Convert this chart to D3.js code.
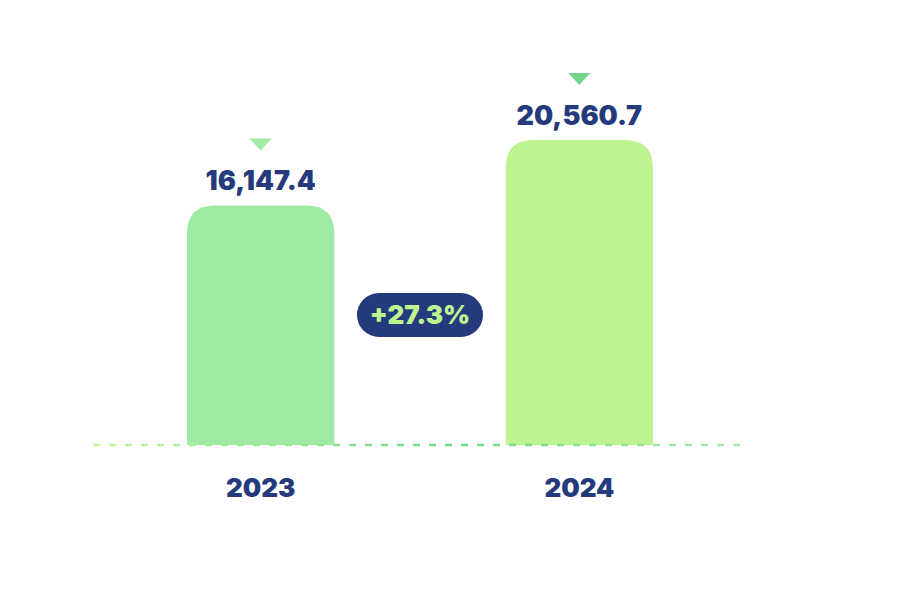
<!DOCTYPE html>
<html>
<head>
<meta charset="utf-8">
<script src="https://cdn.jsdelivr.net/npm/d3@7"></script>
<style>
  html, body { margin: 0; padding: 0; background: #ffffff; }
  svg { display: block; }
  text { font-family: Inter, "Noto Sans", sans-serif; font-weight: 900; }
</style>
</head>
<body>
<svg id="chart"></svg>
<script>
// Dimension constants
const WIDTH = 902;
const HEIGHT = 602;

// data
const years = ['2023', '2024'];
const values = [16147.4, 20560.7];
const barColors = ['#9feaa2', '#bdf490'];
const markerColors = ['#a2eba5', '#72d68a'];

const NAVY = '#253a7d';

const svg = d3.select('#chart')
    .attr('width', WIDTH)
    .attr('height', HEIGHT);

// scales
const x = d3.scaleBand()
    .domain(years)
    .range([93, 747])
    .paddingInner(0.538)
    .paddingOuter(0.295);

const y = d3.scaleLinear()
    .domain([0, d3.max(values)])
    .range([445, 140]);

const baseY = y(0);
const radius = 28;

// gradient for baseline
const defs = svg.append('defs');
const grad = defs.append('linearGradient')
    .attr('id', 'baseGrad')
    .attr('gradientUnits', 'userSpaceOnUse')
    .attr('x1', x.range()[0]).attr('x2', x.range()[1])
    .attr('y1', 0).attr('y2', 0);
grad.append('stop').attr('offset', '0%').attr('stop-color', '#c6f59c');
grad.append('stop').attr('offset', '55%').attr('stop-color', '#72d68a');
grad.append('stop').attr('offset', '100%').attr('stop-color', '#aee9b4');

// bars with rounded tops
function barPath(x0, w, top, bottom, r) {
    const rr = Math.min(r, w / 2, bottom - top);
    return `M${x0},${bottom}V${top + rr}Q${x0},${top} ${x0 + rr},${top}` +
        `H${x0 + w - rr}Q${x0 + w},${top} ${x0 + w},${top + rr}V${bottom}Z`;
}

const data = years.map((d, i) => ({ year: d, value: values[i], i }));

svg.selectAll('.bar')
    .data(data).enter().append('path')
    .attr('class', 'bar')
    .attr('d', d => barPath(x(d.year), x.bandwidth(), y(d.value), baseY, radius))
    .attr('fill', d => barColors[d.i]);

// dashed baseline
svg.append('line')
    .attr('x1', x.range()[0])
    .attr('x2', x.range()[1])
    .attr('y1', baseY)
    .attr('y2', baseY)
    .attr('stroke', 'url(#baseGrad)')
    .attr('stroke-width', 2.5)
    .attr('stroke-dasharray', '7 9');

// value labels
const fmt = d3.format(',.1f');
svg.selectAll('.value-label')
    .data(data).enter().append('text')
    .attr('class', 'value-label')
    .attr('x', d => x(d.year) + x.bandwidth() / 2)
    .attr('y', d => y(d.value) - 15)
    .attr('text-anchor', 'middle')
    .attr('font-size', 27)
    .attr('fill', NAVY)
    .text(d => fmt(d.value));

// triangle markers
svg.selectAll('.marker')
    .data(data).enter().append('path')
    .attr('class', 'marker')
    .attr('transform', d => `translate(${x(d.year) + x.bandwidth() / 2}, ${y(d.value) - 67})`)
    .attr('d', 'M-11,0H11L0,12Z')
    .attr('fill', d => markerColors[d.i]);

// year labels
svg.selectAll('.year-label')
    .data(data).enter().append('text')
    .attr('class', 'year-label')
    .attr('x', d => x(d.year) + x.bandwidth() / 2)
    .attr('y', baseY + 52)
    .attr('text-anchor', 'middle')
    .attr('font-size', 26)
    .attr('fill', NAVY)
    .text(d => d.year);

// growth pill
const growth = (values[1] / values[0] - 1) * 100;
const cx = (x(years[0]) + x(years[1]) + x.bandwidth()) / 2;
const pill = svg.append('g')
    .attr('transform', `translate(${cx}, 315)`);
pill.append('rect')
    .attr('x', -63)
    .attr('y', -22)
    .attr('width', 126)
    .attr('height', 44)
    .attr('rx', 22)
    .attr('fill', NAVY);
pill.append('text')
    .attr('text-anchor', 'middle')
    .attr('dy', '0.36em')
    .attr('font-size', 26)
    .attr('fill', '#bdf490')
    .text(`+${growth.toFixed(1)}%`);
</script>
</body>
</html>
